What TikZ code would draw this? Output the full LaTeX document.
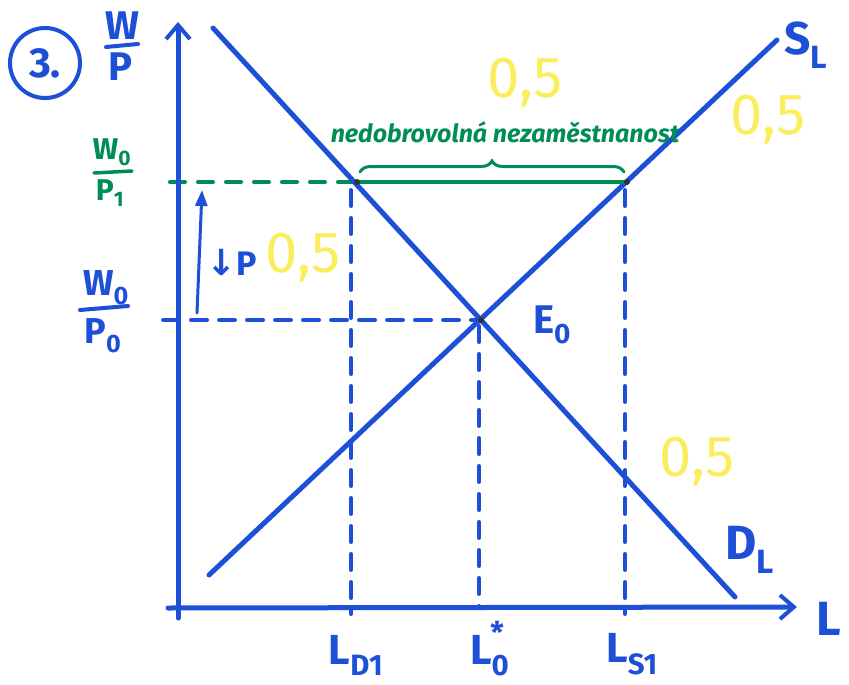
\documentclass[tikz,border=0pt]{standalone}
\usepackage{fontspec}
\setmainfont{Fira Sans}
\newfontfamily\dejavu{DejaVu Sans}
\usetikzlibrary{arrows.meta,decorations.pathreplacing}
\definecolor{pblue}{RGB}{30,80,215}
\definecolor{pgreen}{RGB}{0,140,85}
\definecolor{pyellow}{RGB}{250,238,95}
\newcommand{\fs}[1]{\fontsize{#1}{#1}\selectfont}
\begin{document}
\begin{tikzpicture}[x=1pt,y=-1pt,line cap=round,
  axisline/.style={pblue,line width=5pt,-{Straight Barb[length=14pt,width=24pt,line width=4pt]}},
  curve/.style={pblue,line width=5pt},
  bdash/.style={pblue,line width=4pt,dash pattern=on 16pt off 12pt},
  gdash/.style={pgreen,line width=4pt,dash pattern=on 15pt off 13pt},
  btext/.style={text=pblue,inner sep=0pt},
  gtext/.style={text=pgreen,inner sep=0pt},
  ytext/.style={text=pyellow,inner sep=0pt,font=\fs{58}}]
\useasboundingbox (0,0) rectangle (849,685);
% key points
\coordinate (ytop) at (178,22);
\coordinate (ybot) at (178,618);
\coordinate (xleft) at (168,608);
\coordinate (xright) at (797,607);
\coordinate (d1) at (213,28);
\coordinate (d2) at (735,597);
\coordinate (s1) at (209,575);
\coordinate (s2) at (777,40);
\coordinate (E) at (481,320);
\coordinate (A) at (357,182);
\coordinate (B) at (627,182);
\coordinate (g0) at (170,182);
\coordinate (b0) at (163,320);
\coordinate (tA) at (351,614);
\coordinate (tA0) at (351,190);
\coordinate (tE) at (479,608);
\coordinate (tE0) at (479,326);
\coordinate (tB) at (625,614);
\coordinate (tB0) at (625,190);
\coordinate (ar1) at (197,313);
\coordinate (ar2) at (202,190);
\coordinate (br1) at (360,172);
\coordinate (br2) at (624,172);
% dashed guides
\draw[gdash] (g0) -- (A);
\draw[bdash] (b0) -- (E);
\draw[bdash] (tA0) -- (tA);
\draw[bdash] (tE0) -- (tE);
\draw[bdash] (tB0) -- (tB);
% axes
\draw[axisline] (ybot) -- (ytop);
\draw[axisline] (xleft) -- (xright);
% curves
\draw[curve] (d1) -- (d2);
\draw[curve] (s1) -- (s2);
% green gap
\draw[pgreen,line width=4pt] (A) -- (B);
\draw[pgreen,line width=3pt,decorate,decoration={brace,amplitude=11pt}] (br1) -- (br2);
\fill[black!80] (A) circle (3pt) (B) circle (3pt) (E) circle (3pt);
% price arrow
\draw[pblue,line width=3pt,-{Triangle[length=16pt,width=12pt]}] (ar1) -- (ar2);
% labels
\node[draw=pblue,circle,line width=4pt,minimum size=70pt,btext,font=\bfseries\fs{42}] (c3) at (45,63) {3.};
\node[btext,font=\bfseries\fs{40}] (wW) at (122,26) {W};
\draw[pblue,line width=4pt] (106,47) -- (138,44);
\node[btext,font=\bfseries\fs{40}] (wP) at (120,67) {P};
\node[gtext,font=\bfseries\fs{30}] (gW) at (112,152) {W\textsubscript{0}};
\draw[pgreen,line width=3.5pt] (94,173) -- (132,171);
\node[gtext,font=\bfseries\fs{30}] (gP) at (110,193) {P\textsubscript{1}};
\node[btext,font=\bfseries\fs{36}] (bW) at (106,288) {W\textsubscript{0}};
\draw[pblue,line width=4pt] (80,310) -- (128,306);
\node[btext,font=\bfseries\fs{36}] (bP) at (103,336) {P\textsubscript{0}};
\node[btext,font=\bfseries\fs{34}] (dP) at (232,262) {{\dejavu\bfseries\fs{36}↓}P};
\node[btext,font=\bfseries\fs{40}] (eL) at (552,325) {E\textsubscript{0}};
\node[btext,font=\bfseries\fs{46}] (sL) at (806,45) {S\textsubscript{L}};
\node[btext,font=\bfseries\fs{48}] (dL) at (750,550) {D\textsubscript{L}};
\node[btext,font=\bfseries\fs{48}] (xL) at (829,619) {L};
\node[btext,font=\bfseries\fs{42},anchor=base] (lD) at (356,664) {L\textsubscript{D1}};
\node[btext,font=\bfseries\fs{42},anchor=base] (l0) at (487,664) {L\textsubscript{0}\hspace{-0.45em}\raisebox{0.5em}{\fs{30}*}};
\node[btext,font=\bfseries\fs{42},anchor=base] (lS) at (632,662) {L\textsubscript{S1}};
\node[gtext,font=\bfseries\itshape\fs{25}] (nz) at (505,132) {nedobrovolná nezaměstnanost};
\node[ytext] (y1) at (525,83) {0,5};
\node[ytext] (y2) at (768,120) {0,5};
\node[ytext] (y3) at (303,258) {0,5};
\node[ytext] (y4) at (697,462) {0,5};
\end{tikzpicture}
\end{document}
